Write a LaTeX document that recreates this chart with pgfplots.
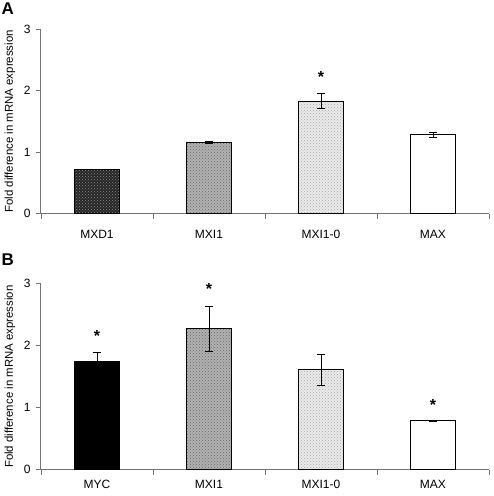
\documentclass[border=0pt]{standalone}
\usepackage{pgfplots}
\pgfplotsset{compat=1.18}
\usetikzlibrary{patterns}
\usepackage{fontspec}
\setmainfont{Liberation Sans}

\begin{document}
\begin{tikzpicture}
\path[use as bounding box] (0pt,0pt) rectangle (494pt,496pt);
\pgfplotsset{
  panel/.style={
    scale only axis, width=448pt,
    xmin=0.5, xmax=4.5, ymin=0, ymax=3,
    axis x line*=bottom, axis y line*=left,
    axis line style={black!55, line width=1pt, -},
    ytick={0,1,2,3},
    xtick={1,2,3,4},
    minor xtick={0.5,1.5,2.5,3.5,4.5},
    major x tick style={draw=none},
    minor x tick style={black!55, line width=0.8pt},
    y tick style={black!55, line width=0.8pt},
    tick align=outside,
    major tick length=5pt, minor tick length=5pt,
    tick label style={font=\fontsize{12}{14}\selectfont},
    yticklabel style={xshift=-2pt},
    /pgf/number format/assume math mode=true,
    every axis y label/.style={at={(axis description cs:0,0.5)}, rotate=90, anchor=center, yshift=31pt,
      font=\fontsize{11.4}{13}\selectfont},
    ylabel={Fold difference in mRNA expression},
    error bars/error bar style={black, line width=0.8pt},
    error bars/error mark options={rotate=90, black, mark size=4pt, line width=0.8pt},
  },
  bars/.style={ybar, bar width=0.41, bar shift=0pt, draw=black, line width=1pt},
  star/.style={only marks, mark=text, text mark={\bfseries\fontsize{16}{16}\selectfont *}},
}
\begin{axis}[panel, at={(41pt,282.3pt)}, anchor=south west, height=184.7pt,
  xticklabels={MXD1, MXI1, MXI1-0, MAX},
  xticklabel style={yshift=-8pt}]
\addplot[bars, fill=black!85, postaction={pattern=crosshatch dots, pattern color=black!45}] coordinates {(1,0.72)};
\addplot[bars, fill=black!30, postaction={pattern=crosshatch dots, pattern color=black!60},
  error bars/.cd, y dir=both, y explicit] coordinates {(2,1.16) +- (0,0.02)};
\addplot[bars, fill=black!8, postaction={pattern=crosshatch dots, pattern color=black!35},
  error bars/.cd, y dir=both, y explicit] coordinates {(3,1.83) +- (0,0.125)};
\addplot[bars, fill=white,
  error bars/.cd, y dir=both, y explicit] coordinates {(4,1.28) +- (0,0.04)};
\addplot[star] coordinates {(3,2.22)};
\end{axis}
\node[anchor=north west, inner sep=0pt, font=\bfseries\fontsize{17}{17}\selectfont] at (1.5pt,493pt) {A};

\begin{axis}[panel, at={(41pt,26.3pt)}, anchor=south west, height=186pt,
  xticklabels={MYC, MXI1, MXI1-0, MAX},
  xticklabel style={yshift=-2pt}]
\addplot[bars, fill=black,
  error bars/.cd, y dir=both, y explicit] coordinates {(1,1.74) +- (0,0.15)};
\addplot[bars, fill=black!30, postaction={pattern=crosshatch dots, pattern color=black!60},
  error bars/.cd, y dir=both, y explicit] coordinates {(2,2.27) +- (0,0.365)};
\addplot[bars, fill=black!8, postaction={pattern=crosshatch dots, pattern color=black!35},
  error bars/.cd, y dir=both, y explicit] coordinates {(3,1.61) +- (0,0.245)};
\addplot[bars, fill=white,
  error bars/.cd, y dir=both, y explicit] coordinates {(4,0.79) +- (0,0.01)};
\addplot[star] coordinates {(1,2.15) (2,2.92) (4,1.04)};
\end{axis}
\node[anchor=north west, inner sep=0pt, font=\bfseries\fontsize{17}{17}\selectfont] at (1.5pt,242pt) {B};
\end{tikzpicture}
\end{document}
